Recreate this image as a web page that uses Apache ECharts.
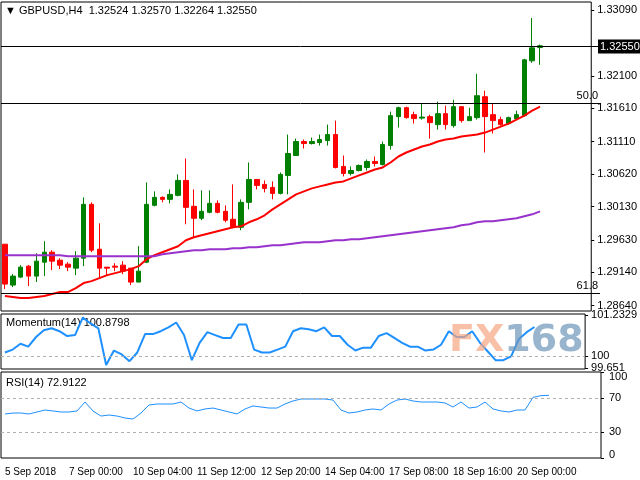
<!DOCTYPE html>
<html>
<head>
<meta charset="utf-8">
<script src="https://cdn.jsdelivr.net/npm/echarts@6/dist/echarts.min.js"></script>
<style>
html, body { margin: 0; padding: 0; background: #fff; }
#main { width: 640px; height: 480px; }
</style>
</head>
<body>
<div id="main"></div>
<script>
// GBPUSD H4 bars
var opens = [1.29565,1.28950,1.29070,1.29235,1.29085,1.29295,1.29445,1.29325,1.29265,1.29205,
    1.29355,1.30165,1.29490,1.29220,1.29235,1.29250,1.29205,1.28995,1.29295,1.30150,
    1.30270,1.30240,1.30300,1.30525,1.30135,1.29955,1.30045,1.30180,1.30060,1.29940,
    1.29820,1.30195,1.30540,1.30465,1.30420,1.30330,1.30600,1.30900,1.31110,1.31080,
    1.31095,1.31125,1.31215,1.30735,1.30630,1.30675,1.30720,1.30810,1.30765,1.31050,
    1.31485,1.31620,1.31515,1.31463,1.31485,1.31365,1.31530,1.31350,1.31635,1.31425,
    1.31470,1.31785,1.31515,1.31440,1.31380,1.31455,1.31500,1.32325,1.32524];
var closes = [1.28965,1.29085,1.29220,1.29085,1.29310,1.29445,1.29310,1.29250,1.29220,1.29355,
    1.30165,1.29475,1.29205,1.29205,1.29220,1.29160,1.28995,1.29160,1.30165,1.30270,
    1.30240,1.30315,1.30525,1.30120,1.29955,1.30060,1.30180,1.30045,1.29925,1.29820,
    1.30195,1.30540,1.30450,1.30405,1.30330,1.30615,1.30930,1.31110,1.31080,1.31110,
    1.31140,1.31215,1.30720,1.30630,1.30675,1.30750,1.30810,1.30780,1.31065,1.31500,
    1.31620,1.31470,1.31455,1.31478,1.31395,1.31530,1.31365,1.31635,1.31425,1.31485,
    1.31800,1.31485,1.31425,1.31365,1.31470,1.31515,1.32340,1.32520,1.32550];
var lows = [1.28890,1.28920,1.29055,1.28935,1.28995,1.29085,1.29175,1.29190,1.29160,1.29100,
    1.29235,1.29445,1.29055,1.29100,1.29160,1.29115,1.28950,1.28995,1.29280,1.30135,
    1.30195,1.30180,1.30285,1.29865,1.29655,1.29925,1.30030,1.30030,1.29895,1.29805,
    1.29775,1.30090,1.30390,1.30345,1.30240,1.30315,1.30315,1.30900,1.31005,1.31065,
    1.31050,1.31050,1.30705,1.30585,1.30600,1.30660,1.30675,1.30735,1.30750,1.30990,
    1.31320,1.31455,1.31380,1.31440,1.31155,1.31290,1.31290,1.31320,1.31395,1.31425,
    1.31440,1.30945,1.31230,1.31350,1.31365,1.31440,1.31485,1.32295,1.32264];
var highs = [1.29565,1.29115,1.29250,1.29250,1.29430,1.29610,1.29475,1.29355,1.29295,1.29460,
    1.30270,1.30195,1.29880,1.29220,1.29280,1.29310,1.29205,1.29535,1.30495,1.30360,
    1.30285,1.30390,1.30615,1.30855,1.30390,1.30375,1.30375,1.30225,1.30150,1.30465,
    1.30240,1.30795,1.30540,1.30525,1.30510,1.30645,1.31215,1.31155,1.31140,1.31170,
    1.31215,1.31365,1.31425,1.30900,1.30735,1.30765,1.30840,1.30885,1.31110,1.31560,
    1.31635,1.31635,1.31560,1.31680,1.31515,1.31710,1.31650,1.31740,1.31635,1.31620,
    1.32130,1.31875,1.31680,1.31485,1.31485,1.31575,1.32355,1.32970,1.32570];

var maFast = [1.28785,1.28770,1.28755,1.28755,1.28770,1.28785,1.28815,1.28845,1.28845,1.28905,
    1.28980,1.29010,1.29055,1.29100,1.29130,1.29160,1.29190,1.29235,1.29340,1.29400,
    1.29445,1.29490,1.29535,1.29625,1.29670,1.29700,1.29730,1.29760,1.29790,1.29820,
    1.29835,1.29895,1.29940,1.30000,1.30090,1.30165,1.30240,1.30315,1.30360,1.30405,
    1.30435,1.30465,1.30495,1.30510,1.30555,1.30600,1.30645,1.30690,1.30720,1.30795,
    1.30885,1.30945,1.30990,1.31035,1.31065,1.31110,1.31140,1.31155,1.31185,1.31200,
    1.31215,1.31245,1.31290,1.31335,1.31380,1.31440,1.31500,1.31575,1.31635];
var maSlow = [1.29400,1.29400,1.29400,1.29400,1.29400,1.29400,1.29400,1.29400,1.29385,1.29385,
    1.29385,1.29385,1.29385,1.29385,1.29385,1.29385,1.29385,1.29385,1.29385,1.29385,
    1.29415,1.29430,1.29445,1.29460,1.29475,1.29475,1.29490,1.29490,1.29490,1.29505,
    1.29505,1.29520,1.29520,1.29535,1.29550,1.29550,1.29565,1.29580,1.29595,1.29595,
    1.29595,1.29610,1.29625,1.29625,1.29640,1.29640,1.29655,1.29670,1.29685,1.29700,
    1.29715,1.29730,1.29745,1.29760,1.29775,1.29790,1.29805,1.29820,1.29850,1.29865,
    1.29895,1.29910,1.29910,1.29925,1.29940,1.29955,1.29985,1.30015,1.30060];

var momentum = [100.116,100.203,100.377,100.290,100.580,100.783,100.841,100.754,100.609,100.638,
    101.160,100.986,100.841,99.739,100.174,100.058,99.855,100.116,100.667,100.667,
    100.754,100.870,101.015,100.638,99.884,100.406,100.725,100.638,100.551,100.551,
    100.957,100.957,100.203,100.116,100.116,100.203,100.290,100.754,100.841,100.812,
    100.754,100.870,100.609,100.609,100.348,100.174,100.261,100.261,100.609,100.696,
    100.551,100.406,100.290,100.290,100.174,100.203,100.348,100.754,100.580,100.580,
    100.754,100.406,100.145,99.884,99.884,100.000,100.522,100.725,100.880];
var rsi = [51.2,52.3,52.3,51.2,53.5,55.8,54.7,53.5,53.5,54.7,
    65.1,54.7,48.8,50.0,48.8,46.5,45.3,52.3,61.6,62.8,
    62.8,62.8,65.1,58.1,54.7,57.0,58.1,55.8,53.5,51.2,
    57.0,60.5,59.3,58.1,58.1,62.8,66.3,68.6,68.6,68.6,
    68.6,67.4,55.8,52.3,53.5,55.8,57.0,55.8,62.8,67.4,
    68.6,66.3,65.1,65.1,65.1,64.0,59.3,65.1,58.1,59.3,
    65.1,57.0,54.7,53.5,55.8,55.8,70.5,72.5,72.9];

var priceTicks = [1.33090,1.32100,1.31610,1.31110,1.30620,1.30130,1.29630,1.29140,1.28640];
var levels = [1.32550, 1.31695, 1.28830];
var levelLabels = ['1.32550', '50.0', '61.8'];
var dateLabels = ['5 Sep 2018','7 Sep 00:00','10 Sep 04:00','11 Sep 12:00','12 Sep 20:00',
    '14 Sep 04:00','17 Sep 08:00','18 Sep 16:00','20 Sep 00:00'];

var slots = 75;  // bars plus empty space on the right
var cats = [];
for (var i = 0; i < slots; i++) cats.push(String(i));
var candles = [];
for (var i = 0; i < opens.length; i++) candles.push([opens[i], closes[i], lows[i], highs[i]]);

var font = 'Liberation Sans';
var lab = {color: '#000', fontSize: 11, fontFamily: font};

function xAx(idx, showLabels) {
    return {
        type: 'category', gridIndex: idx, data: cats, boundaryGap: true,
        axisLine: {show: false}, axisTick: {show: false}, splitLine: {show: false},
        axisLabel: showLabels ? {
            show: true, interval: 0, align: 'left', margin: 9, color: '#000', fontSize: 10, fontFamily: font,
            formatter: function (v, i) { return i % 8 === 0 && dateLabels[i / 8] ? dateLabels[i / 8] : ''; }
        } : {show: false}
    };
}

var chart = echarts.init(document.getElementById('main'));
chart.setOption({
    backgroundColor: '#fff',
    animation: false,
    grid: [
        {left: 1, right: 39, top: 2, height: 309, show: true, borderColor: '#000', borderWidth: 1},
        {left: 1, right: 39, top: 314, height: 55, show: true, borderColor: '#000', borderWidth: 1},
        {left: 1, right: 39, top: 372, height: 86, show: true, borderColor: '#000', borderWidth: 1}
    ],
    xAxis: [xAx(0, false), xAx(1, false), xAx(2, true)],
    yAxis: [
        {type: 'value', gridIndex: 0, position: 'right', min: 1.2856, max: 1.3321,
         splitLine: {show: false}, axisLine: {show: false},
         axisTick: {show: true, customValues: priceTicks, length: 3, lineStyle: {color: '#000'}},
         axisLabel: Object.assign({customValues: priceTicks, margin: 6,
            formatter: function (v) { return v.toFixed(5); }}, lab)},
        {type: 'value', gridIndex: 1, position: 'right', min: 99.62, max: 101.27,
         splitLine: {show: false}, axisLine: {show: false},
         axisTick: {show: true, customValues: [99.651, 100, 101.2329], length: 3, lineStyle: {color: '#000'}},
         axisLabel: Object.assign({customValues: [99.651, 100, 101.2329], margin: 6,
            formatter: function (v) { return v === 100 ? '100' : String(v); }}, lab)},
        {type: 'value', gridIndex: 2, position: 'right', min: 0, max: 100,
         splitLine: {show: false}, axisLine: {show: false},
         axisTick: {show: true, customValues: [0, 30, 70, 100], length: 3, lineStyle: {color: '#000'}},
         axisLabel: Object.assign({customValues: [4, 30, 70, 94], margin: 8,
            formatter: function (v) { return v === 4 ? '0' : v === 94 ? '100' : String(v); }}, lab)}
    ],
    series: [
        {type: 'candlestick', xAxisIndex: 0, yAxisIndex: 0, data: candles, barWidth: 5,
         itemStyle: {color: '#008000', color0: '#ff0000', borderColor: '#008000', borderColor0: '#ff0000', borderWidth: 1}},
        {type: 'line', xAxisIndex: 0, yAxisIndex: 0, data: maFast, symbol: 'none', z: 3,
         lineStyle: {color: '#ff0000', width: 2}},
        {type: 'line', xAxisIndex: 0, yAxisIndex: 0, data: maSlow, symbol: 'none',
         lineStyle: {color: '#9932cc', width: 2}},
        {type: 'line', xAxisIndex: 1, yAxisIndex: 1, data: momentum, symbol: 'none',
         lineStyle: {color: '#1e90ff', width: 2},
         markLine: {silent: true, symbol: 'none', label: {show: false},
            lineStyle: {color: '#b0b0b0', type: [3, 3], width: 1}, data: [{yAxis: 100}]}},
        {type: 'line', xAxisIndex: 2, yAxisIndex: 2, data: rsi, symbol: 'none',
         lineStyle: {color: '#1e90ff', width: 1},
         markLine: {silent: true, symbol: 'none', label: {show: false},
            lineStyle: {color: '#b0b0b0', type: [3, 3], width: 1}, data: [{yAxis: 30}, {yAxis: 70}]}}
    ]
});

// horizontal price levels, placed through the y axis scale
var g = [
    {type: 'text', left: 5, top: 5, style: {text: '\u25BC GBPUSD,H4  1.32524 1.32570 1.32264 1.32550',
        fill: '#000', fontSize: 11, fontFamily: font}},
    {type: 'text', left: 6, top: 317, style: {text: 'Momentum(14) 100.8798', fill: '#000', fontSize: 11, fontFamily: font}},
    {type: 'text', left: 6, top: 377, style: {text: 'RSI(14) 72.9122', fill: '#000', fontSize: 11, fontFamily: font}},
    {type: 'text', left: 449, top: 322, z: 10, style: {
        text: '{a|FX}{b|168}', rich: {
            a: {fontSize: 38, fontWeight: 'bold', fontFamily: 'DejaVu Sans', fill: 'rgba(245,165,130,0.7)'},
            b: {fontSize: 38, fontWeight: 'bold', fontFamily: 'DejaVu Sans', fill: 'rgba(110,150,185,0.7)'}
        }}}
];
levels.forEach(function (v, k) {
    var y = Math.round(chart.convertToPixel({yAxisIndex: 0}, v)) + 0.5;
    g.push({type: 'line', shape: {x1: 1, y1: y, x2: 600, y2: y}, style: {stroke: '#000', lineWidth: 1}, z: 5});
    if (k === 0) {
        g.push({type: 'text', x: 598, y: y, z: 6, style: {text: levelLabels[k], fill: '#fff', fontSize: 11,
            fontFamily: font, backgroundColor: '#000', padding: [2, 2, 1, 2], verticalAlign: 'middle'}});
    } else {
        g.push({type: 'text', x: 598, y: y - 2, z: 6, style: {text: levelLabels[k], fill: '#000', fontSize: 11,
            fontFamily: font, align: 'right', verticalAlign: 'bottom'}});
    }
});
chart.setOption({graphic: g});
</script>
</body>
</html>
